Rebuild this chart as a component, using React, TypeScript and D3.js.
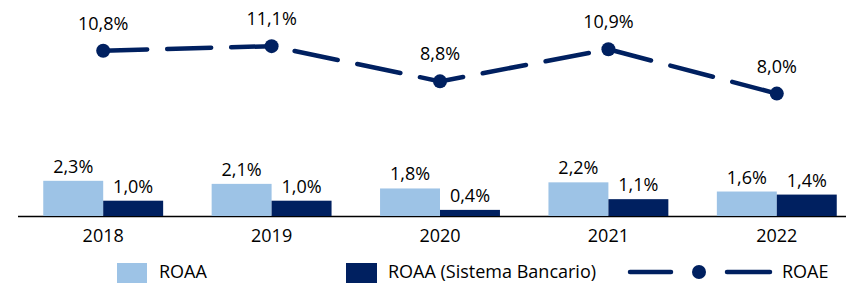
import React from 'react';
import * as d3 from 'd3';

const years = ['2018', '2019', '2020', '2021', '2022'];
const roaa = [2.3, 2.1, 1.8, 2.2, 1.6];
const roaaBanking = [1.0, 1.0, 0.4, 1.1, 1.4];
const roae = [10.8, 11.1, 8.8, 10.9, 8.0];

const LIGHT = '#9dc3e6';
const DARK = '#002060';
const FONT = '"Open Sans", sans-serif';
const FS = 18;

const width = 846;
const height = 283;
const baseY = 216;

const fmt = (v: number) => v.toFixed(1).replace('.', ',') + '%';

export default function App() {
  const x = d3.scaleBand<string>().domain(years).range([19, 861]).paddingInner(0.288).paddingOuter(0.144);
  const sub = d3.scaleBand<string>().domain(['a', 'b']).range([0, x.bandwidth()]);
  const y = d3.scaleLinear().domain([0, 14]).range([baseY, baseY - 14 * 15.3]);

  const cx = (d: string) => (x(d) as number) + x.bandwidth() / 2;
  const line = d3.line<number>().x((_, i) => cx(years[i])).y((d) => y(d));

  return (
    <svg width={width} height={height} style={{ position: 'absolute', left: 0, top: 0 }} fontFamily={FONT}>
      <line x1={18} x2={846} y1={baseY + 0.5} y2={baseY + 0.5} stroke="#000" strokeWidth={1.5} />
      {years.map((yr, i) => (
        <g key={yr}>
          <rect x={(x(yr) as number) + (sub('a') as number)} y={y(roaa[i])} width={sub.bandwidth()} height={baseY - y(roaa[i])} fill={LIGHT} />
          <rect x={(x(yr) as number) + (sub('b') as number)} y={y(roaaBanking[i])} width={sub.bandwidth()} height={baseY - y(roaaBanking[i])} fill={DARK} />
          <text x={(x(yr) as number) + (sub('a') as number) + sub.bandwidth() / 2} y={y(roaa[i]) - 8} textAnchor="middle" fontSize={FS} fill="#000">{fmt(roaa[i])}</text>
          <text x={(x(yr) as number) + (sub('b') as number) + sub.bandwidth() / 2} y={y(roaaBanking[i]) - 8} textAnchor="middle" fontSize={FS} fill="#000">{fmt(roaaBanking[i])}</text>
          <text x={cx(yr)} y={242} textAnchor="middle" fontSize={FS} fill="#000">{yr}</text>
        </g>
      ))}
      <path d={line(roae) || ''} fill="none" stroke={DARK} strokeWidth={4.5} strokeDasharray="44 20" strokeLinecap="round" />
      {years.map((yr, i) => (
        <g key={'m' + yr}>
          <circle cx={cx(yr)} cy={y(roae[i])} r={7} fill={DARK} />
          <text x={cx(yr)} y={y(roae[i]) - 21} textAnchor="middle" fontSize={FS} fill="#000">{fmt(roae[i])}</text>
        </g>
      ))}
      <g fontSize={FS} fill="#000">
        <rect x={117} y={263} width={30} height={20} fill={LIGHT} />
        <text x={159} y={278}>ROAA</text>
        <rect x={346} y={263} width={31} height={20} fill={DARK} />
        <text x={388} y={278}>ROAA (Sistema Bancario)</text>
        <line x1={630} x2={671} y1={272} y2={272} stroke={DARK} strokeWidth={4.5} strokeLinecap="round" />
        <circle cx={699} cy={272} r={7} fill={DARK} />
        <line x1={727} x2={770} y1={272} y2={272} stroke={DARK} strokeWidth={4.5} strokeLinecap="round" />
        <text x={782} y={278}>ROAE</text>
      </g>
    </svg>
  );
}
